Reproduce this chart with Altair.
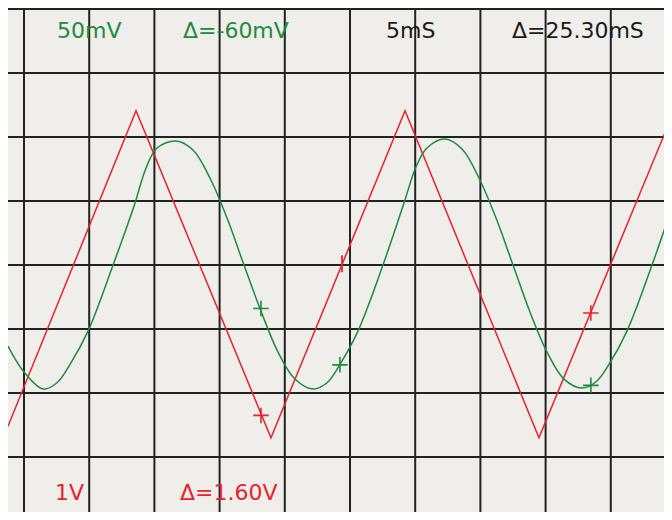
import altair as alt
import pandas as pd

# ---- data ----
# time in ms (5 ms/div), red channel in V (1 V/div), green channel in mV (50 mV/div)
red_t = [-1.23, 8.59, 18.94, 29.22, 39.49, 49.85]
red_v = [-2.52, 2.41, -2.70, 2.41, -2.70, 2.41]

green_t = [-1.23, 0.00, 1.46, 2.53, 3.53, 4.91, 6.83, 8.44, 9.36, 10.20,
           11.66, 12.96, 14.26, 15.57, 16.87, 18.17, 19.48, 20.78, 22.16, 23.24,
           24.23, 25.61, 27.53, 29.14, 30.06, 30.90, 32.29, 33.59, 34.89, 36.20,
           37.50, 38.80, 40.11, 41.41, 42.79, 43.87, 44.86, 46.24, 48.16, 49.77,
           50.69]
green_mv = [-63.3, -83.6, -96.9, -92.0, -77.6, -51.6, 0.0, 46.1, 75.8, 91.4,
            96.9, 89.8, 68.0, 36.7, 0.0, -35.9, -68.0, -89.1, -96.9, -92.0,
            -77.6, -51.6, 0.0, 48.4, 76.6, 91.4, 98.4, 90.6, 68.0, 36.7,
            0.0, -36.7, -68.0, -89.1, -96.1, -91.2, -77.6, -51.6, 0.0, 47.7,
            75.8]

# cursor markers
green_cross_t = [18.17, 43.47, 24.23]
green_cross_mv = [-34.0, -94.0, -78.0]
red_cross_t = [18.17, 43.47]
red_cross_v = [-2.35, -0.75]
red_tick_t = [24.39]
red_tick_v = [0.02]

# graticule
grid_t = [0, 5, 10, 15, 20, 25, 30, 35, 40, 45, 50]
grid_div = [-4, -3, -2, -1, 0, 1, 2, 3, 4]

# readouts
labels = ["50mV", "Δ=-60mV", "5mS", "Δ=25.30mS", "1V", "Δ=1.60V"]
label_t = [2.53, 12.19, 27.76, 37.42, 2.38, 11.96]
label_div = [3.66, 3.66, 3.66, 3.66, -3.56, -3.56]
label_color = ["#1e8a3e", "#1e8a3e", "#1a1a1a", "#1a1a1a", "#e8232d", "#e8232d"]

RED = "#e8232d"
GREEN = "#1e8a3e"
GRID = "#222222"

# visible window: page x 8..664, page y 8..512 (13.04 px/ms, 64 px/div)
xs = alt.Scale(domain=[-16 / 13.04, 640 / 13.04], nice=False, zero=False)
ys = alt.Scale(domain=[4.016 - 7.875, 4.016], nice=False, zero=False)

vgrid = alt.Chart(pd.DataFrame({"t": grid_t})).mark_rule(
    color=GRID, strokeWidth=2
).encode(x=alt.X("t:Q", scale=xs, axis=None))

hgrid = alt.Chart(pd.DataFrame({"d": grid_div})).mark_rule(
    color=GRID, strokeWidth=2
).encode(y=alt.Y("d:Q", scale=ys, axis=None))

red = alt.Chart(pd.DataFrame({"t": red_t, "v": red_v})).mark_line(
    color=RED, strokeWidth=1.5, clip=True
).encode(x=alt.X("t:Q", scale=xs, axis=None), y=alt.Y("v:Q", scale=ys, axis=None))

green = alt.Chart(pd.DataFrame({"t": green_t, "mv": green_mv})).transform_calculate(
    d="datum.mv / 50"
).mark_line(
    color=GREEN, strokeWidth=1.5, interpolate="catmull-rom", clip=True
).encode(x=alt.X("t:Q", scale=xs, axis=None), y=alt.Y("d:Q", scale=ys, axis=None))

CROSS = "M-1,0L1,0M0,-1L0,1"
TICK = "M0,-1L0,1"

gcross = alt.Chart(pd.DataFrame({"t": green_cross_t, "mv": green_cross_mv})).transform_calculate(
    d="datum.mv / 50"
).mark_point(
    shape=CROSS, size=240, stroke=GREEN, strokeWidth=1.6, filled=False, opacity=1
).encode(x=alt.X("t:Q", scale=xs, axis=None), y=alt.Y("d:Q", scale=ys, axis=None))

rcross = alt.Chart(pd.DataFrame({"t": red_cross_t, "v": red_cross_v})).mark_point(
    shape=CROSS, size=240, stroke=RED, strokeWidth=1.6, filled=False, opacity=1
).encode(x=alt.X("t:Q", scale=xs, axis=None), y=alt.Y("v:Q", scale=ys, axis=None))

rtick = alt.Chart(pd.DataFrame({"t": red_tick_t, "v": red_tick_v})).mark_point(
    shape=TICK, size=289, stroke=RED, strokeWidth=1.8, filled=False, opacity=1
).encode(x=alt.X("t:Q", scale=xs, axis=None), y=alt.Y("v:Q", scale=ys, axis=None))

text = alt.Chart(pd.DataFrame({"t": label_t, "d": label_div, "s": labels, "c": label_color})).mark_text(
    align="left", baseline="middle", font="DejaVu Sans", fontSize=22
).encode(
    x=alt.X("t:Q", scale=xs, axis=None),
    y=alt.Y("d:Q", scale=ys, axis=None),
    text="s:N",
    color=alt.Color("c:N", scale=None),
)

chart = alt.layer(vgrid, hgrid, red, green, gcross, rcross, rtick, text).properties(
    width=656, height=504, padding=0,
    autosize=alt.AutoSizeParams(type="none"),
    background="#efeeea",
).configure_view(strokeWidth=0)

chart.save("out.html", embed_options={"renderer": "svg", "actions": False})
